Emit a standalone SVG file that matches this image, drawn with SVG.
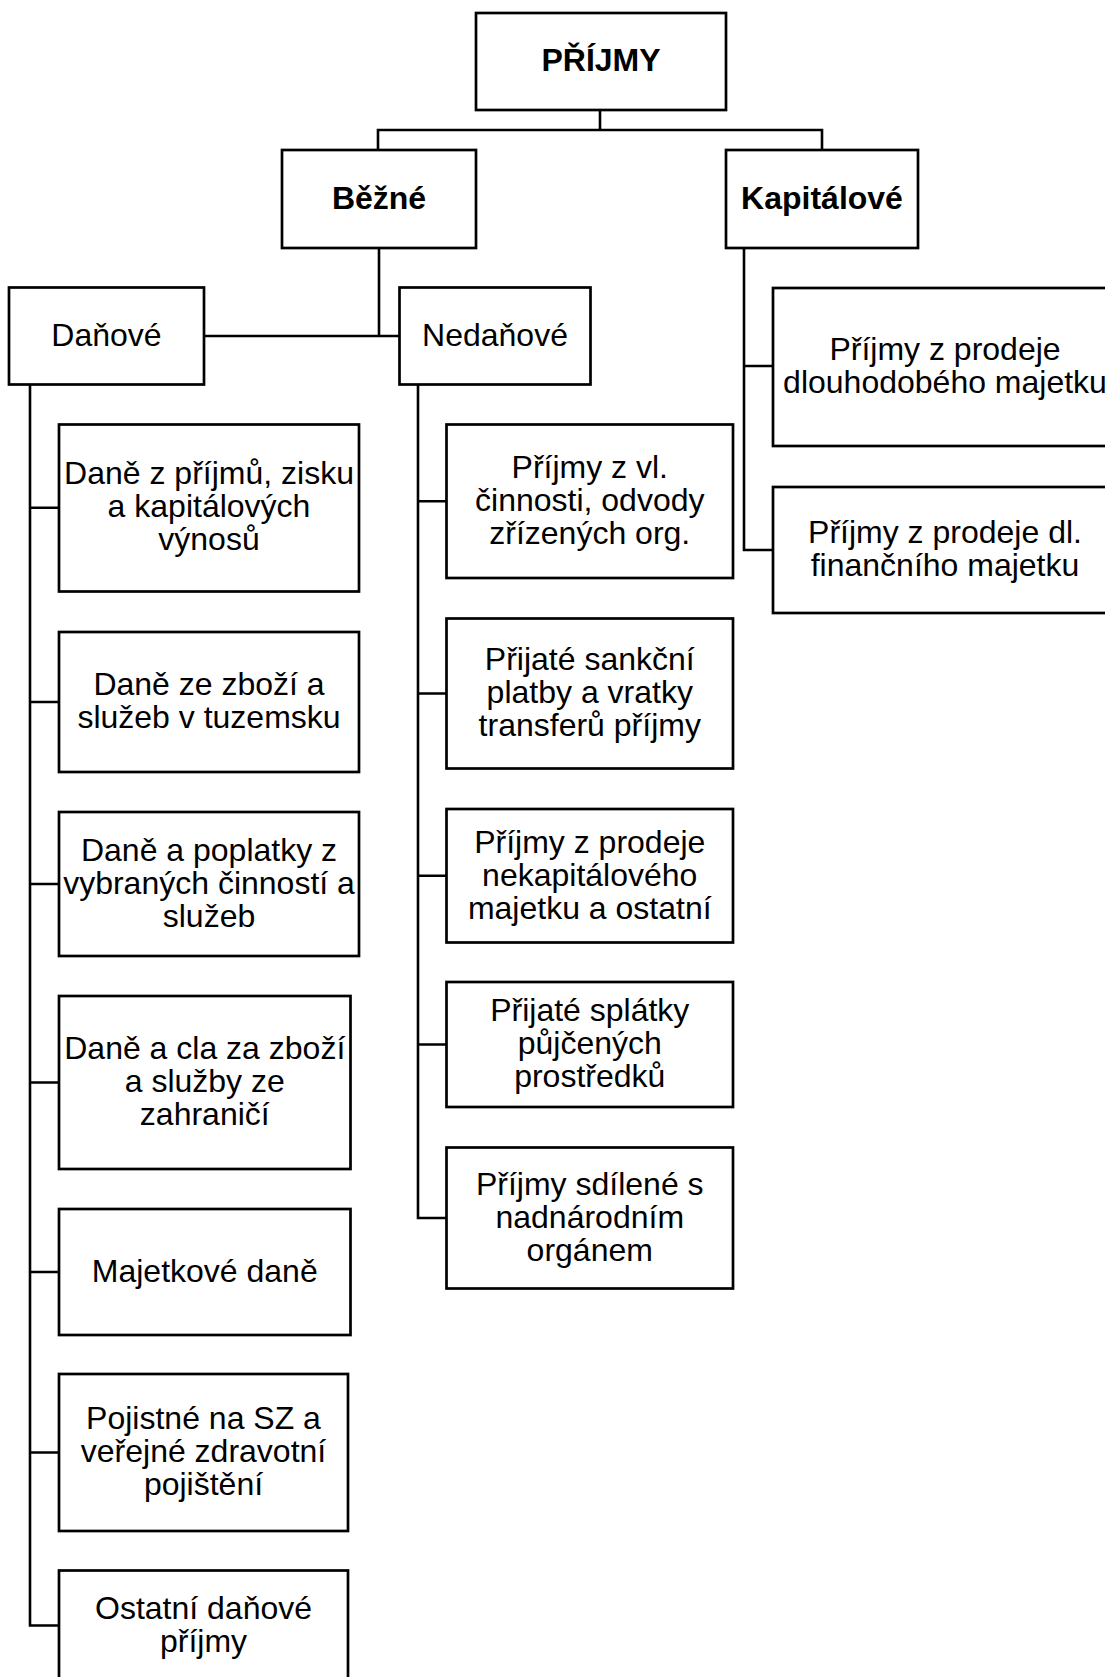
<svg xmlns="http://www.w3.org/2000/svg" width="1105" height="1677" viewBox="0 0 1105 1677">
<style>
.box{fill:#fff;stroke:#000;stroke-width:2.7}
.ln{fill:none;stroke:#000;stroke-width:2.6}
text{font-family:"Liberation Sans",Arial,sans-serif;font-size:32px;text-anchor:middle;fill:#000;transform:translate(0px,-1.2px)}
.b{font-weight:bold}
</style>
<rect width="1105" height="1677" fill="#fff"/>
<g id="connectors">
<path class="ln" d="M600,110V130M378,150V130H822V150"/>
<path class="ln" d="M379,248V336M204,336H399.5"/>
<path class="ln" d="M744,248V550H773M744,366H773"/>
<path class="ln" d="M30,384.5V1625.5H59M30,507.7H59M30,702H59M30,884H59M30,1082.5H59M30,1272H59M30,1452.5H59"/>
<path class="ln" d="M418,384.5V1218H446.5M418,501.3H446.5M418,693.5H446.5M418,875.8H446.5M418,1044.5H446.5"/>
</g>
<g id="n-prijmy"><rect class="box" x="476" y="13" width="250" height="97"/><text class="b" x="601" y="72.5">PŘÍJMY</text></g>
<g id="n-bezne"><rect class="box" x="282" y="150" width="194" height="98"/><text class="b" x="379" y="210">Běžné</text></g>
<g id="n-kapitalove"><rect class="box" x="726" y="150" width="192" height="98"/><text class="b" x="822" y="210">Kapitálové</text></g>
<g id="n-danove"><rect class="box" x="9" y="287.5" width="195" height="97"/><text x="106.5" y="347">Daňové</text></g>
<g id="n-nedanove"><rect class="box" x="399.5" y="287.5" width="191" height="97"/><text x="495" y="347">Nedaňové</text></g>
<g id="n-k1"><rect class="box" x="773" y="288" width="345" height="158"/><text x="945" y="361.5">Příjmy z prodeje</text><text x="945" y="394.5">dlouhodobého majetku</text></g>
<g id="n-k2"><rect class="box" x="773" y="487" width="345" height="126"/><text x="945" y="544.5">Příjmy z prodeje dl.</text><text x="945" y="577.5">finančního majetku</text></g>
<g id="n-d1"><rect class="box" x="59" y="424.5" width="300" height="167"/><text x="209" y="485.7">Daně z příjmů, zisku</text><text x="209" y="518.7">a kapitálových</text><text x="209" y="551.7">výnosů</text></g>
<g id="n-d2"><rect class="box" x="59" y="632" width="300" height="140"/><text x="209" y="696.5">Daně ze zboží a</text><text x="209" y="729.5">služeb v tuzemsku</text></g>
<g id="n-d3"><rect class="box" x="59" y="812" width="300" height="144"/><text x="209" y="862">Daně a poplatky z</text><text x="209" y="895">vybraných činností a</text><text x="209" y="928">služeb</text></g>
<g id="n-d4"><rect class="box" x="59" y="996" width="291.5" height="173"/><text x="204.75" y="1060.5">Daně a cla za zboží</text><text x="204.75" y="1093.5">a služby ze</text><text x="204.75" y="1126.5">zahraničí</text></g>
<g id="n-d5"><rect class="box" x="59" y="1209" width="291.5" height="126"/><text x="204.75" y="1283">Majetkové daně</text></g>
<g id="n-d6"><rect class="box" x="59" y="1374" width="289" height="157"/><text x="203.5" y="1430.5">Pojistné na SZ a</text><text x="203.5" y="1463.5">veřejné zdravotní</text><text x="203.5" y="1496.5">pojištění</text></g>
<g id="n-d7"><rect class="box" x="59" y="1570.5" width="289" height="110"/><text x="203.5" y="1620">Ostatní daňové</text><text x="203.5" y="1653">příjmy</text></g>
<g id="n-n1"><rect class="box" x="446.5" y="424.5" width="286.5" height="153.5"/><text x="589.75" y="479.3">Příjmy z vl.</text><text x="589.75" y="512.3">činnosti, odvody</text><text x="589.75" y="545.3">zřízených org.</text></g>
<g id="n-n2"><rect class="box" x="446.5" y="618.5" width="286.5" height="150"/><text x="589.75" y="671.5">Přijaté sankční</text><text x="589.75" y="704.5">platby a vratky</text><text x="589.75" y="737.5">transferů příjmy</text></g>
<g id="n-n3"><rect class="box" x="446.5" y="809" width="286.5" height="133.5"/><text x="589.75" y="853.8">Příjmy z prodeje</text><text x="589.75" y="886.8">nekapitálového</text><text x="589.75" y="919.8">majetku a ostatní</text></g>
<g id="n-n4"><rect class="box" x="446.5" y="982" width="286.5" height="125"/><text x="589.75" y="1022.5">Přijaté splátky</text><text x="589.75" y="1055.5">půjčených</text><text x="589.75" y="1088.5">prostředků</text></g>
<g id="n-n5"><rect class="box" x="446.5" y="1147.5" width="286.5" height="141"/><text x="589.75" y="1196">Příjmy sdílené s</text><text x="589.75" y="1229">nadnárodním</text><text x="589.75" y="1262">orgánem</text></g>
</svg>
